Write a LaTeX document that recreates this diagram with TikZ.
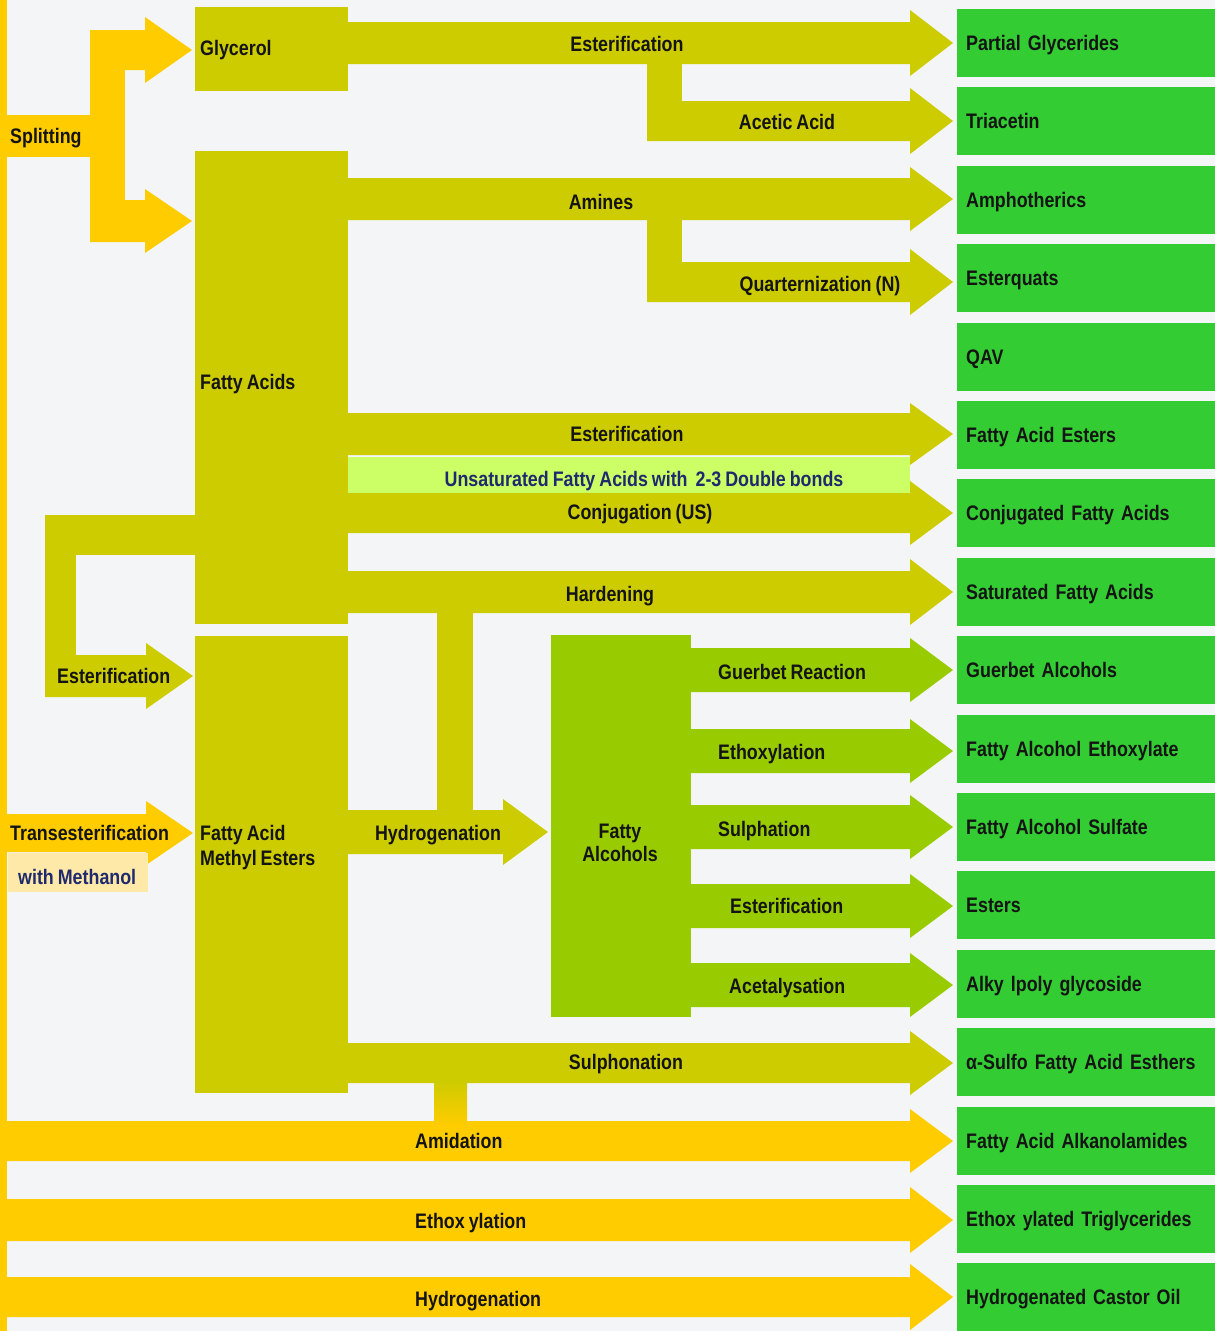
\documentclass[tikz,border=0pt]{standalone}
\usepackage{fontspec}
\setmainfont{Liberation Sans}[FakeStretch=0.85, WordSpace=0.8]

\definecolor{bgcol}{HTML}{F4F5F6}
\definecolor{orng}{HTML}{FFCC00}
\definecolor{fatolive}{HTML}{CCCC00}
\definecolor{limeg}{HTML}{99CC00}
\definecolor{prodg}{HTML}{33CC33}
\definecolor{paleg}{HTML}{CCFF66}
\definecolor{paleorng}{HTML}{FFE9A8}
\definecolor{ink}{HTML}{141414}
\definecolor{navy}{HTML}{1F2A6E}

\newcommand{\blockarrow}[7]{%
  \fill[#1] (#2,#5-#6) -- (#3,#5-#6) -- (#3,#5-#7) -- (#4,#5)
    -- (#3,#5+#7) -- (#3,#5+#6) -- (#2,#5+#6) -- cycle;
}

\begin{document}
\begin{tikzpicture}[
    x=1pt, y=-1pt,
    every node/.style={font=\bfseries\fontsize{21}{25}\selectfont, text=ink, inner sep=0pt},
    lbl/.style={text height=15pt, text depth=0pt},
    blk/.style={anchor=north west, minimum width=#1},
    prod/.style={fill=prodg, anchor=west, minimum height=68pt, text width=240pt,
        inner xsep=9pt, align=left, text height=15pt, text depth=0pt}
]
\useasboundingbox (0,0) rectangle (1215,1331);
\fill[bgcol] (0,0) rectangle (1215,1331);

% feedstock lines
\fill[orng] (0,0) rectangle (7,1331);
\fill[orng] (0,115) rectangle (125,157);
\fill[orng] (90,30) rectangle (125,242);
\blockarrow{orng}{90}{145}{192}{50}{20}{33}
\blockarrow{orng}{90}{145}{192}{221}{21}{32}
\blockarrow{orng}{0}{146}{193}{833}{19}{32}
\fill[paleorng] (8,853) rectangle (148,892);
\blockarrow{orng}{0}{910}{953}{1141}{20}{32}
\blockarrow{orng}{0}{910}{953}{1220}{21}{33}
\blockarrow{orng}{0}{910}{953}{1297}{20}{33}

% glycerol and fatty acid routes
\blockarrow{fatolive}{340}{910}{953}{43}{21}{33}
\fill[fatolive] (647,60) rectangle (682,105);
\blockarrow{fatolive}{647}{910}{953}{121}{20}{33}
\blockarrow{fatolive}{340}{910}{953}{199}{21}{32}
\fill[fatolive] (647,215) rectangle (682,265);
\blockarrow{fatolive}{647}{910}{953}{282}{20}{33}
\blockarrow{fatolive}{340}{910}{953}{434}{21}{31}
\fill[paleg] (348,457) rectangle (910,493);
\blockarrow{fatolive}{340}{910}{953}{513}{20}{32}
\blockarrow{fatolive}{340}{910}{953}{592}{21}{33}
\fill[fatolive] (437,600) rectangle (473,815);
\blockarrow{fatolive}{340}{503}{548}{832}{22}{33}
\fill[fatolive] (45,515) rectangle (200,555);
\fill[fatolive] (45,515) rectangle (76,697);
\blockarrow{fatolive}{45}{146}{193}{676}{21}{33}
\blockarrow{fatolive}{340}{910}{953}{1063}{20}{32}
\shade[top color=fatolive, bottom color=orng] (434,1080) rectangle (467,1125);

% fatty alcohol routes
\foreach \yy in {670, 751, 827, 906, 985}{
    \blockarrow{limeg}{685}{910}{953}{\yy}{22}{32}
}

% blocks
\node[blk=153pt, fill=fatolive, minimum height=84pt] (gly) at (195,7) {};
\node[blk=153pt, fill=fatolive, minimum height=473pt] (fa) at (195,151) {};
\node[blk=153pt, fill=fatolive, minimum height=457pt] (fame) at (195,636) {};
\node[blk=140pt, fill=limeg, minimum height=382pt] (falc) at (551,635) {};

\foreach \txt [count=\i from 0] in {Partial Glycerides, Triacetin, Amphotherics,
    Esterquats, QAV, Fatty Acid Esters, Conjugated Fatty Acids, Saturated Fatty Acids,
    Guerbet Alcohols, Fatty Alcohol Ethoxylate, Fatty Alcohol Sulfate, Esters,
    Alky lpoly glycoside, α-Sulfo Fatty Acid Esthers, Fatty Acid Alkanolamides,
    Ethox ylated Triglycerides, Hydrogenated Castor Oil}{
    \node[prod] (p\i) at (957,{43+78.4*\i}) {\txt};
}

% labels
\node[lbl, anchor=west] (split) at (10,136) {Splitting};
\node[lbl, anchor=west] (glyt) at (200,48) {Glycerol};
\node[lbl, anchor=west] (fat) at (200,382) {Fatty Acids};
\node[anchor=north west, align=left] (famet) at (200,825) {Fatty Acid\\Methyl Esters};
\node[anchor=north, align=center, font=\bfseries\fontsize{21}{23}\selectfont] (falct) at (620,824) {Fatty\\Alcohols};

\node[lbl] (ester1) at (627,44) {Esterification};
\node[lbl] (acetic) at (787,122) {Acetic Acid};
\node[lbl] (amines) at (601,202) {Amines};
\node[lbl] (quat) at (820,284) {Quarternization (N)};
\node[lbl] (ester2) at (627,434) {Esterification};
\node[lbl, text=navy] (unsat) at (644,479) {Unsaturated Fatty Acids with\ \ 2-3 Double bonds};
\node[lbl] (conj) at (640,512) {Conjugation (US)};
\node[lbl] (hard) at (610,594) {Hardening};
\node[lbl] (hydro1) at (438,833) {Hydrogenation};
\node[lbl] (sulfon) at (626,1062) {Sulphonation};

\node[lbl, anchor=west] (guerbet) at (718,672) {Guerbet Reaction};
\node[lbl, anchor=west] (ethox1) at (718,752) {Ethoxylation};
\node[lbl, anchor=west] (sulph) at (718,829) {Sulphation};
\node[lbl, anchor=west] (ester3) at (730,906) {Esterification};
\node[lbl, anchor=west] (acetal) at (729,986) {Acetalysation};

\node[lbl, anchor=west] (ester4) at (57,676) {Esterification};
\node[lbl, anchor=west] (trans) at (10,833) {Transesterification};
\node[lbl, anchor=west, text=navy] (meth) at (18,877) {with Methanol};

\node[lbl, anchor=west] (amid) at (415,1141) {Amidation};
\node[lbl, anchor=west] (ethox2) at (415,1221) {Ethox ylation};
\node[lbl, anchor=west] (hydro2) at (415,1299) {Hydrogenation};

\end{tikzpicture}
\end{document}
